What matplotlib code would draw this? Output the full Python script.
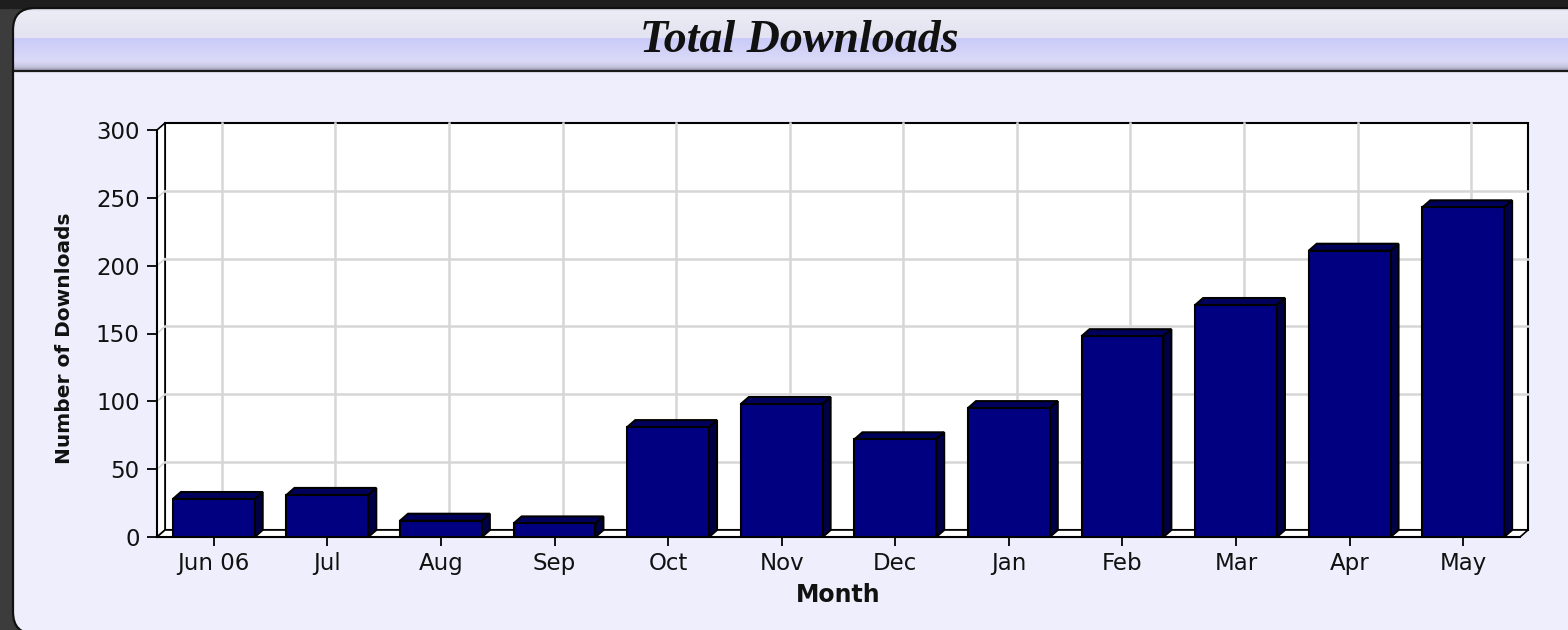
import numpy as np
import matplotlib
matplotlib.use('Agg')
import matplotlib.pyplot as plt
from matplotlib.patches import FancyBboxPatch, Rectangle, Polygon
from matplotlib.transforms import IdentityTransform

months = ['Jun 06', 'Jul', 'Aug', 'Sep', 'Oct', 'Nov', 'Dec', 'Jan', 'Feb', 'Mar', 'Apr', 'May']
downloads = [28, 31, 12, 10, 81, 98, 72, 95, 148, 171, 211, 243]
y_ticks = [0, 50, 100, 150, 200, 250, 300]

W, H = 1568, 630
fig = plt.figure(figsize=(W / 100, H / 100), dpi=100, facecolor='#3c3c3c')

# dark strip above the panel
fig.add_artist(Rectangle((0, H - 8), W, 8, transform=IdentityTransform(),
                         color='#1e1e1e', zorder=-2))

# rounded lavender panel
panel = FancyBboxPatch((13, -4), 1600, H - 8 + 4, boxstyle='round,pad=0,rounding_size=22',
                       transform=IdentityTransform(), facecolor='#eeeefc',
                       edgecolor='none', zorder=-1)
fig.add_artist(panel)
border = FancyBboxPatch((13, -4), 1600, H - 8 + 4, boxstyle='round,pad=0,rounding_size=22',
                        transform=IdentityTransform(), facecolor='none',
                        edgecolor='#111111', linewidth=1.6, zorder=10)
fig.add_artist(border)

# title bar gradient
tax = fig.add_axes([13 / W, 1 - 71 / H, (W - 13) / W, 63 / H])
tax.set_axis_off()
stops_y = [0, 3, 29, 30, 53, 58, 62]
stops_c = ['#d2d2e2', '#ececf6', '#e3e3f1', '#cbcbfa', '#dadaf7', '#c6c6de', '#9898ae']
rgb = np.array([matplotlib.colors.to_rgb(c) for c in stops_c])
rows = np.arange(63)
grad = np.stack([np.interp(rows, stops_y, rgb[:, k]) for k in range(3)], axis=1)[:, None, :]
im = tax.imshow(grad, aspect='auto', extent=[0, 1, 0, 1], interpolation='bilinear')
im.set_clip_path(panel)
fig.add_artist(plt.Line2D([13, W], [H - 70.5, H - 70.5], transform=IdentityTransform(),
                          color='#1a1a1a', linewidth=1.6, zorder=5))
fig.text(799 / W, 1 - 52 / H, 'Total Downloads', ha='center', va='baseline',
         family='Liberation Serif', weight='bold', style='italic', size=33, color='#111111')

# main plot (front plane of the 3D box)
ax = fig.add_axes([157 / W, 1 - 537 / H, 1363 / W, 407 / H])
ax.set_xlim(-0.5, 11.5)
ax.set_ylim(0, 300)
ax.patch.set_visible(False)

x = np.arange(len(months))
dx = 8 / (1363 / 12)
dy = 7 / (407 / 300)
w = 0.72

ax.add_patch(Rectangle((-0.5 + dx, dy), 12, 300, facecolor='white', edgecolor='black',
                       linewidth=1.5, clip_on=False, zorder=0.5))
ax.add_patch(Polygon([(-0.5, 0), (-0.5 + dx, dy), (-0.5 + dx, 300 + dy), (-0.5, 300)],
                     facecolor='white', edgecolor='black', linewidth=1.2, clip_on=False, zorder=0.5))
ax.add_patch(Polygon([(-0.5, 0), (11.5, 0), (11.5 + dx, dy), (-0.5 + dx, dy)],
                     facecolor='white', edgecolor='black', linewidth=1.2, clip_on=False, zorder=0.5))

for v in y_ticks[1:-1]:
    ax.plot([-0.5 + dx, 11.5 + dx], [v + dy, v + dy], color='#d6d6d6', lw=1.8, zorder=0.6, clip_on=False)
    ax.plot([-0.5, -0.5 + dx], [v, v + dy], color='#d6d6d6', lw=1.2, zorder=0.6, clip_on=False)
for xi in x:
    ax.plot([xi + dx, xi + dx], [dy, 300 + dy], color='#d6d6d6', lw=1.8, zorder=0.6, clip_on=False)

for xi, v in zip(x, downloads):
    left, right = xi - w / 2, xi + w / 2
    ax.add_patch(Polygon([(left, v), (right, v), (right + dx, v + dy), (left + dx, v + dy)],
                         facecolor='#00005c', edgecolor='black', linewidth=1.5, zorder=3, clip_on=False))
    ax.add_patch(Polygon([(right, 0), (right + dx, dy), (right + dx, v + dy), (right, v)],
                         facecolor='#000046', edgecolor='black', linewidth=1.5, zorder=3, clip_on=False))
ax.bar(x, downloads, width=w, color='#000080', edgecolor='black', linewidth=1.5, zorder=4)

for s in ['top', 'right']:
    ax.spines[s].set_visible(False)
for s in ['left', 'bottom']:
    ax.spines[s].set_linewidth(1.5)

ax.set_xticks(x, months)
ax.set_yticks(y_ticks)
ax.tick_params(axis='both', direction='out', width=1.3, labelsize=16.5, labelcolor='#111111')
ax.tick_params(axis='x', length=6.5, pad=4)
ax.tick_params(axis='y', length=7.5, pad=5)

ax.set_xlabel('Month', fontsize=17, fontweight='bold', color='#111111')
ax.xaxis.set_label_coords(0.5, (537 - 583) / 407)
ax.set_ylabel('Number of Downloads', fontsize=14.5, fontweight='bold', color='#111111')
ax.yaxis.set_label_coords((74 - 157) / 1363, (537 - 338) / 407)

fig.savefig('out.png', dpi=100, facecolor=fig.get_facecolor())
